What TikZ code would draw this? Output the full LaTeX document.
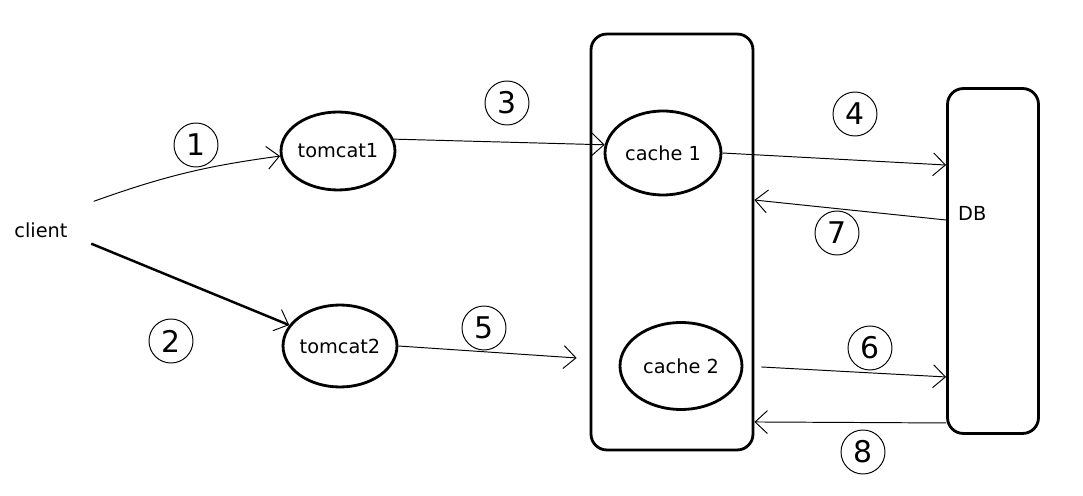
\documentclass[tikz,border=0pt]{standalone}
\usepackage{fontspec}
\setmainfont{DejaVu Sans}
\usetikzlibrary{shapes.geometric, arrows.meta, positioning}

\tikzset{
    box/.style={draw, line width=1.6pt, rounded corners=9pt, inner sep=0pt},
    store/.style={draw, ellipse, line width=1.6pt, inner sep=0pt},
    flow/.style={line width=0.55pt, -{Straight Barb[length=7pt, width=13pt, line width=0.55pt]}},
    num/.style={draw, circle, line width=0.55pt, minimum size=0.88cm, inner sep=0pt, font=\fontsize{17}{17}\selectfont},
}

\begin{document}
\begin{tikzpicture}[x=0.02cm, y=-0.02cm, font=\fontsize{11}{13}\selectfont]
    \useasboundingbox (0,0) rectangle (1083,496);
    % servers
    \node (client) at (41,230) {client};
    \node [store, minimum width=2.06cm, minimum height=1.56cm] (tomcat1) at (338,151) {tomcat1};
    \node [store, minimum width=2.02cm, minimum height=1.64cm] (tomcat2) at (340,346) {tomcat2};

    % cache
    \node [box, minimum width=3.24cm, minimum height=8.32cm] (cachebox) at (672,242) {};
    \node [store, minimum width=2.32cm, minimum height=1.68cm] (cache1) at (663,153) {cache 1};
    \node [store, minimum width=2.44cm, minimum height=1.74cm] (cache2) at (681,366) {cache 2};

    % db
    \node [box, minimum width=1.82cm, minimum height=6.9cm] (db) at (993,261) {};
    \node [anchor=west] (dbname) at (952,213) {DB};

    % steps
    \node [num] (n1) at (196,145) {1};
    \node [num] (n2) at (171,341) {2};
    \node [num] (n3) at (507,103) {3};
    \node [num] (n4) at (855,114) {4};
    \node [num] (n5) at (484,328) {5};
    \node [num] (n6) at (870,348) {6};
    \node [num] (n7) at (837,233) {7};
    \node [num] (n8) at (863,452) {8};

    \draw [flow] ([xshift=0.4cm, yshift=0.3cm]client.north east) to [bend left=6] (tomcat1.185);
    \draw [flow, line width=1.4pt] ([xshift=0.35cm]client.south east) -- (tomcat2);
    \draw [flow] (tomcat1.12) -- (cache1.172);
    \draw [flow] (tomcat2.east) -- ([yshift=-2.32cm, xshift=-0.26cm]cachebox.west);
    \draw [flow] (cache1.east) -- ([yshift=1.92cm]db.west);
    \draw [flow] ([yshift=0.82cm]db.west) -- ([yshift=0.84cm]cachebox.east);
    \draw [flow, shorten <=0.36cm] (cache2.east) -- ([yshift=-2.32cm]db.west);
    \draw [flow] ([yshift=-3.24cm]db.west) -- ([yshift=-3.6cm]cachebox.east);
\end{tikzpicture}
\end{document}
